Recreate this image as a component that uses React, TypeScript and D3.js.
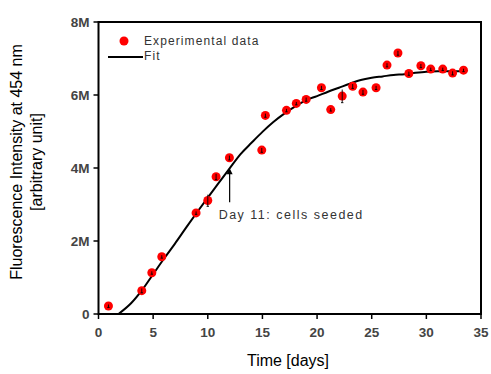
import React from "react";
import * as d3 from "d3";

const expDays = [0.91, 3.96, 4.88, 5.79, 8.93, 10.0, 10.76, 11.98, 14.94, 15.27, 17.2, 18.1, 19.0, 20.4, 21.25, 22.3, 23.26, 24.2, 25.4, 26.4, 27.4, 28.4, 29.5, 30.4, 31.5, 32.4, 33.4];
const expValues = [0.22, 0.64, 1.13, 1.57, 2.77, 3.11, 3.76, 4.28, 4.49, 5.44, 5.58, 5.77, 5.88, 6.2, 5.6, 5.97, 6.24, 6.08, 6.2, 6.82, 7.15, 6.59, 6.8, 6.71, 6.71, 6.6, 6.68].map((v) => v * 1e6);
const expErrors = [0.04, 0.06, 0.04, 0.04, 0.04, 0.16, 0.08, 0.06, 0.06, 0.05, 0.04, 0.04, 0.05, 0.05, 0.04, 0.18, 0.06, 0.06, 0.05, 0.05, 0.06, 0.05, 0.05, 0.04, 0.04, 0.05, 0.04].map((v) => v * 1e6);

const fitDays = [1.83, 3, 4, 5, 6, 7, 8, 9, 10, 11, 12, 13, 14, 15, 16, 17, 18, 19, 20, 21, 22, 23, 24, 25, 26, 27, 28, 29, 30, 31, 32, 33.4];
const fitValues = [0, 0.3, 0.66, 1.09, 1.52, 1.93, 2.36, 2.78, 3.19, 3.59, 3.99, 4.38, 4.69, 4.99, 5.26, 5.49, 5.69, 5.86, 5.97, 6.09, 6.2, 6.31, 6.41, 6.47, 6.51, 6.55, 6.57, 6.61, 6.64, 6.65, 6.65, 6.65].map((v) => v * 1e6);

const xTicks = [0, 5, 10, 15, 20, 25, 30, 35];
const yTicks = [0, 2e6, 4e6, 6e6, 8e6];
const yTickLabels = ["0", "2M", "4M", "6M", "8M"];

const annotation = { day: 12.0, value: 3.99e6, text: "Day 11: cells seeded" };

const W = 491;
const H = 374;
const left = 98.5;
const right = 481;
const top = 22;
const bottom = 314;

export default function App() {
  const x = d3.scaleLinear().domain([0, 35]).range([left, right]);
  const y = d3.scaleLinear().domain([0, 8e6]).range([bottom, top]);
  const line = d3
    .line<number>()
    .x((_, i) => x(fitDays[i]))
    .y((d) => y(d))
    .curve(d3.curveMonotoneX);
  const font = "'Liberation Sans', Arial, sans-serif";
  const ax = x(annotation.day);
  const ay = y(annotation.value);
  return (
    <svg width={W} height={H} style={{ position: "absolute", left: 0, top: 0, background: "#fff" }} fontFamily={font}>
      <rect x={left} y={top} width={right - left} height={bottom - top} fill="none" stroke="#000" strokeWidth={2} />
      {yTicks.map((t, i) => (
        <g key={"y" + i}>
          <line x1={left - 5} x2={left} y1={y(t)} y2={y(t)} stroke="#000" strokeWidth={1.5} />
          <text x={left - 9} y={y(t)} dy="0.35em" textAnchor="end" fontSize={13.5} fontWeight="bold" fill="#444">
            {yTickLabels[i]}
          </text>
        </g>
      ))}
      {xTicks.map((t, i) => (
        <g key={"x" + i}>
          <line x1={x(t)} x2={x(t)} y1={bottom} y2={bottom + 5} stroke="#000" strokeWidth={1.5} />
          <text x={x(t)} y={bottom + 18} dy="0.35em" textAnchor="middle" fontSize={13.5} fontWeight="bold" fill="#444">
            {t}
          </text>
        </g>
      ))}
      <path d={line(fitValues) || ""} fill="none" stroke="#000" strokeWidth={2} />
      {expDays.map((d, i) => (
        <circle key={"p" + i} cx={x(d)} cy={y(expValues[i])} r={4.5} fill="#ff0000" />
      ))}
      {expDays.map((d, i) => (
        <g key={"e" + i} stroke="#000" strokeWidth={0.9}>
          <line x1={x(d)} x2={x(d)} y1={y(expValues[i] - expErrors[i])} y2={y(expValues[i] + expErrors[i])} />
          <line x1={x(d) - 1.2} x2={x(d) + 1.2} y1={y(expValues[i] - expErrors[i])} y2={y(expValues[i] - expErrors[i])} />
        </g>
      ))}
      <line x1={ax} x2={ax} y1={ay + 2} y2={ay + 34} stroke="#000" strokeWidth={1.2} />
      <path d={`M${ax},${ay} L${ax - 3},${ay + 6} L${ax + 3},${ay + 6} Z`} fill="#000" />
      <text x={ax - 11} y={ay + 51} fontSize={12.5} fill="#333" letterSpacing={1.5}>
        {annotation.text}
      </text>
      <circle cx={124} cy={41} r={4.5} fill="#ff0000" />
      <text x={144} y={41} dy="0.35em" fontSize={12} fill="#333" letterSpacing={1.1}>
        Experimental data
      </text>
      <line x1={108} x2={143} y1={57} y2={57} stroke="#000" strokeWidth={2} />
      <text x={144} y={56} dy="0.35em" fontSize={12} fill="#333" letterSpacing={1.1}>
        Fit
      </text>
      <text transform={`translate(22,162) rotate(-90)`} textAnchor="middle" fontSize={16} fill="#000">
        Fluorescence Intensity at 454 nm
      </text>
      <text transform={`translate(42,162) rotate(-90)`} textAnchor="middle" fontSize={16} fill="#000">
        [arbitrary unit]
      </text>
      <text x={288} y={366} textAnchor="middle" fontSize={16} fill="#000">
        Time [days]
      </text>
    </svg>
  );
}
